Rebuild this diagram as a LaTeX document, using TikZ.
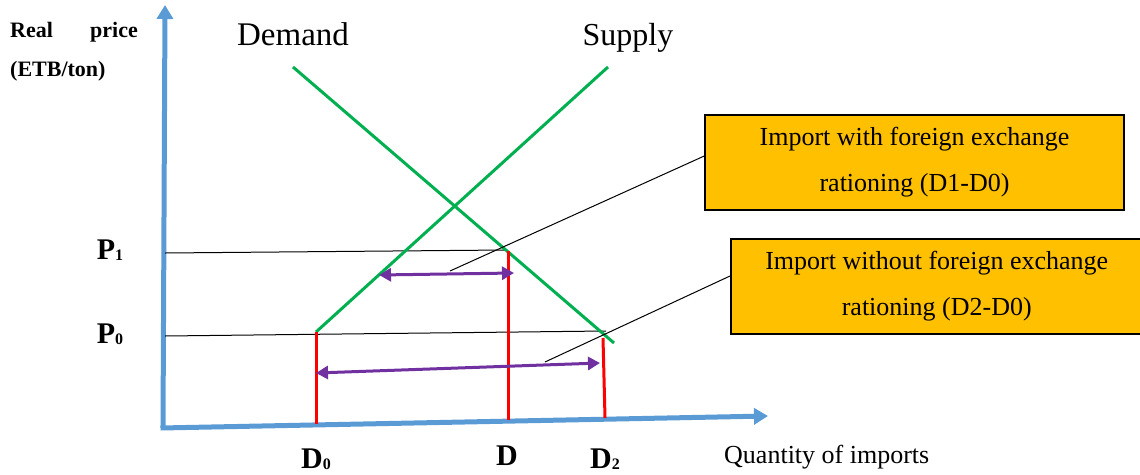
\documentclass[tikz,border=0pt]{standalone}
\usepackage{fontspec}
\setmainfont{Liberation Serif}
\usetikzlibrary{arrows.meta}
\definecolor{axisblue}{HTML}{5B9BD5}
\definecolor{curvegreen}{HTML}{00B050}
\definecolor{boxgold}{HTML}{FFC000}
\definecolor{arrowpurple}{HTML}{7030A0}
\newcommand{\tinysub}[1]{{\fontsize{16}{16}\selectfont\raisebox{-1pt}{#1}}}
\tikzset{
  axisline/.style={draw=axisblue, line width=5pt, -{Triangle[length=14pt,width=16pt]}},
  curve/.style={draw=curvegreen, line width=3pt},
  redline/.style={draw=red, line width=3pt},
  guide/.style={draw=black, line width=1pt},
  gap/.style={draw=arrowpurple, line width=3pt, {Triangle[length=12pt,width=13pt]}-{Triangle[length=12pt,width=13pt]}},
  callout/.style={draw=black, line width=1.5pt, fill=boxgold, inner sep=0pt, align=center, font=\fontsize{26}{46}\selectfont},
  lbl/.style={inner sep=0pt, anchor=base, font=\fontsize{30}{30}\selectfont\bfseries},
  small/.style={inner sep=0pt, anchor=base west, font=\fontsize{22}{24}\selectfont\bfseries}
}
\begin{document}
\begin{tikzpicture}[x=1pt,y=-1pt]
\useasboundingbox (0,0) rectangle (1140,474);
% axes
\coordinate (O) at (163,428);
\coordinate (Ytip) at (165,5);
\coordinate (Xtip) at (768,416);
\draw[axisline] (O) -- (Ytip);
\draw[axisline] ([xshift=-2.5pt]O) -- (Xtip);
% points
\coordinate (P1l) at (165,253);
\coordinate (P1r) at (506,250);
\coordinate (P0l) at (165,336);
\coordinate (P0r) at (606,331);
\coordinate (Dtop) at (293,67);
\coordinate (Dbot) at (614,343);
\coordinate (Stop) at (608,67);
\coordinate (Sbot) at (316,332);
% guides
\draw[guide] (P1l) -- (P1r);
\draw[guide] (P0l) -- (P0r);
% curves
\draw[curve] (Dtop) -- (Dbot);
\draw[curve] (Sbot) -- (Stop);
% red verticals
\coordinate (D0t) at (316,332); \coordinate (D0b) at (316,424);
\coordinate (D1t) at (508,251); \coordinate (D1b) at (508,420);
\coordinate (D2t) at (603,338); \coordinate (D2b) at (605,418);
\draw[redline] (D0t) -- (D0b);
\draw[redline] (D1t) -- (D1b);
\draw[redline] (D2t) -- (D2b);
% purple arrows
\coordinate (A1l) at (379,275); \coordinate (A1r) at (514,273);
\coordinate (A2l) at (316,373); \coordinate (A2r) at (600,363);
\draw[gap] (A1l) -- (A1r);
\draw[gap] (A2l) -- (A2r);
% callout boxes
\node[callout, minimum width=419pt, minimum height=95pt] (B1) at (914.5,162.5) {Import with foreign exchange\\rationing (D1-D0)};
\node[callout, minimum width=412pt, minimum height=95pt, anchor=west] (B2) at (730,286.5) {Import without foreign exchange\\rationing (D2-D0)};
\coordinate (L1) at (450,271);
\coordinate (L2) at (545,362);
\draw[guide] (L1) -- (B1.west |- 0,156);
\draw[guide] (L2) -- (B2.west |- 0,276);
% labels
\node[inner sep=0pt, anchor=base, font=\fontsize{33}{34}\selectfont] (dem) at (293,45) {Demand};
\node[inner sep=0pt, anchor=base, font=\fontsize{32}{34}\selectfont] (sup) at (628,45) {Supply};
\node[small] (real) at (10,37) {Real};
\node[small, anchor=base east] (price) at (138,37) {price};
\node[small] (etb) at (10,76) {(ETB/ton)};
\node[lbl] (p1) at (110,259) {P\tinysub{1}};
\node[lbl] (p0) at (110,343) {P\tinysub{0}};
\node[lbl] (d0) at (316,468) {D\tinysub{0}};
\node[lbl] (d1) at (507,465) {D};
\node[lbl] (d2) at (605,468) {D\tinysub{2}};
\node[inner sep=0pt, font=\fontsize{26}{28}\selectfont, anchor=base west] (qty) at (724,463) {Quantity of imports};
\end{tikzpicture}
\end{document}
